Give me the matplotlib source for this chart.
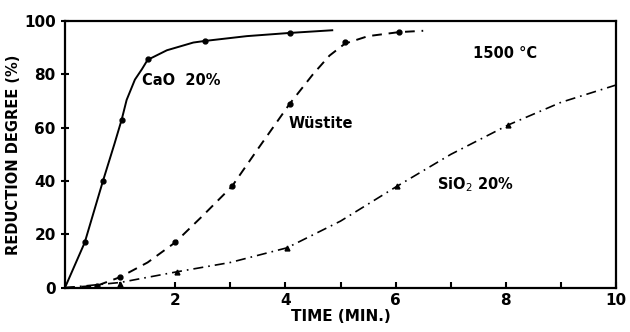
import matplotlib
matplotlib.use("Agg")
import matplotlib.pyplot as plt

# curve traces (time in min, reduction degree in %)
cao_t = [0, 0.36, 0.69, 0.9, 1.03, 1.12, 1.27, 1.4, 1.5, 1.85, 2.33, 2.54, 3.3, 4.08, 4.85]
cao_r = [0, 17, 40, 54, 63, 70.4, 78, 82, 85.4, 89, 91.9, 92.5, 94.3, 95.5, 96.5]
cao_pt_t = [0.36, 0.69, 1.03, 1.5, 2.54, 4.08]
cao_pt_r = [17, 40, 63, 85.6, 92.5, 95.5]

wus_t = [0, 0.58, 1.0, 1.5, 2.0, 2.5, 3.03, 3.5, 4.08, 4.5, 4.8, 5.08, 5.5, 6.06, 6.5]
wus_r = [0, 0.8, 4, 9.5, 17, 27, 38, 52, 69, 80, 87, 91.5, 94.3, 95.8, 96.3]
wus_pt_t = [0.58, 1.0, 2.0, 3.03, 4.08, 5.08, 6.06]
wus_pt_r = [0.8, 4, 17, 38, 69, 92, 96]

sio_t = [0, 1.0, 2.03, 3.0, 4.03, 5.0, 6.02, 7.0, 8.04, 9.0, 10.0]
sio_r = [0, 2, 6, 9.5, 15, 25, 38, 50, 61, 69.5, 76]
sio_pt_t = [1.0, 2.03, 4.03, 6.02, 8.04]
sio_pt_r = [1.5, 6, 15, 38, 61]

plt.rcParams['font.family'] = ['DejaVu Sans']
fig = plt.figure(figsize=(6.3, 3.32), dpi=100)
ax = fig.add_axes([0.103, 0.133, 0.875, 0.804])

ax.plot(cao_t, cao_r, color='black', lw=1.4, ls='-')
ax.plot(cao_pt_t, cao_pt_r, 'o', color='black', ms=3.5)

ax.plot(wus_t, wus_r, color='black', lw=1.4, dashes=(5, 3.5))
ax.plot(wus_pt_t, wus_pt_r, 'o', color='black', ms=3.5)

ax.plot(sio_t, sio_r, color='black', lw=1.2, dashes=(6, 3, 1, 3))
ax.plot(sio_pt_t, sio_pt_r, '^', color='black', ms=3.5)

ax.set_xlim(0, 10)
ax.set_ylim(0, 100)
ax.set_xticks([2, 4, 6, 8, 10])
ax.set_xticks([1, 3, 5, 7, 9], minor=True)
ax.set_yticks([0, 20, 40, 60, 80, 100])
ax.tick_params(axis='x', which='both', direction='in', length=4, width=1.5, labelsize=11)
ax.tick_params(axis='y', direction='inout', length=6, width=1.5, labelsize=11)
for lab in ax.get_xticklabels() + ax.get_yticklabels():
    lab.set_fontweight('bold')
for sp in ax.spines.values():
    sp.set_linewidth(1.6)

ax.set_xlabel('TIME (MIN.)', fontsize=11, fontweight='bold', labelpad=1)
ax.set_ylabel('REDUCTION DEGREE (%)', fontsize=10.5, fontweight='bold', labelpad=2)

ax.text(1.4, 76, 'CaO  20%', fontsize=10.5, fontweight='bold')
ax.text(4.05, 60, 'Wüstite', fontsize=10.5, fontweight='bold')
ax.text(7.4, 86, '1500 °C', fontsize=10.5, fontweight='bold')
ax.text(6.75, 37, 'SiO$_2$ 20%', fontsize=10.5, fontweight='bold')

fig.savefig('out.png', dpi=100)
